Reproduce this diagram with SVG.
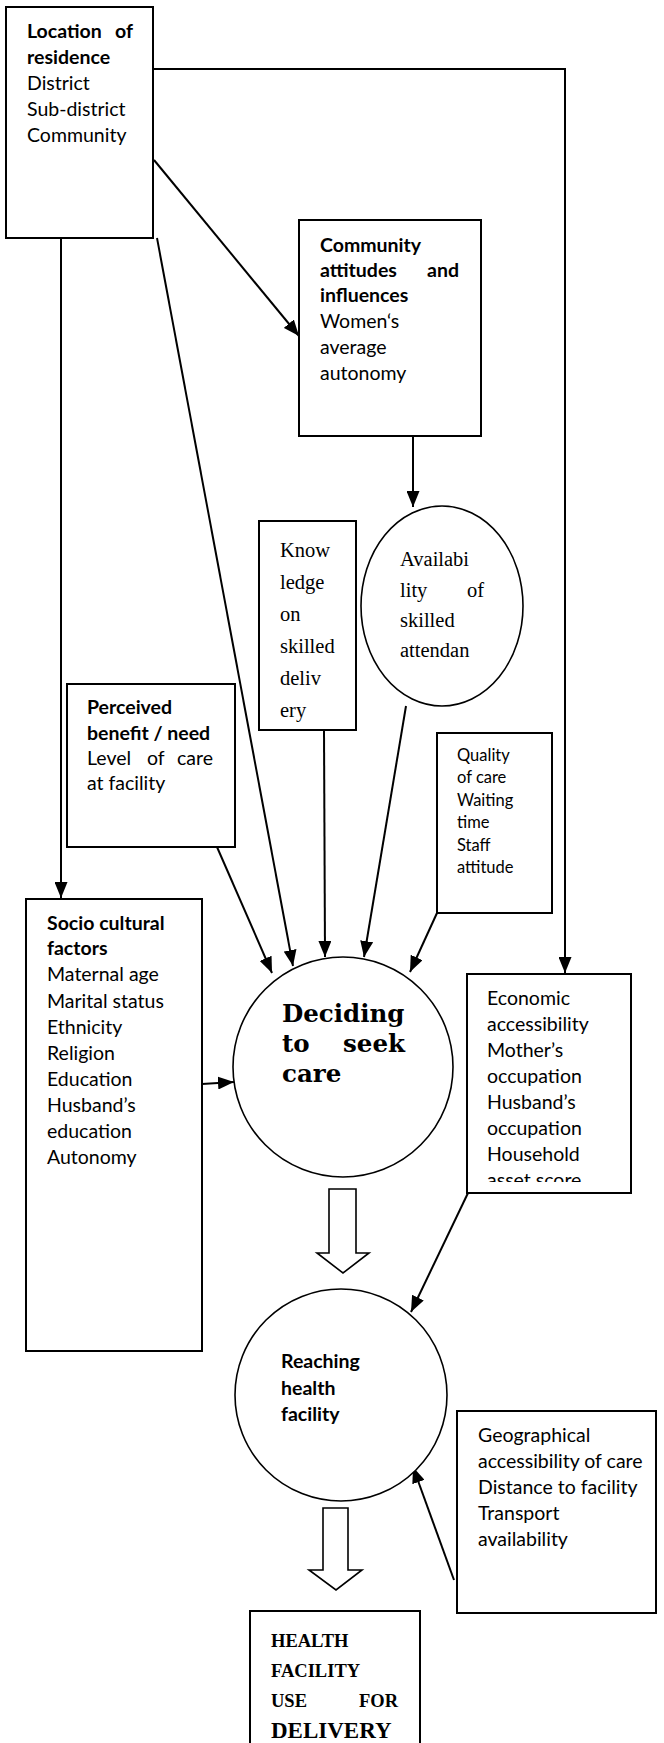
<svg xmlns="http://www.w3.org/2000/svg" width="664" height="1743" viewBox="0 0 664 1743">
<style>
.box{fill:#fff;stroke:#000;stroke-width:2}
.circ{fill:#fff;stroke:#000;stroke-width:1.6}
.s{font-family:Lato,"Liberation Sans",sans-serif;font-size:19.5px;fill:#000}
.sb{font-family:Lato,"Liberation Sans",sans-serif;font-size:19.5px;font-weight:bold;fill:#000}
.sm{font-family:Lato,"Liberation Sans",sans-serif;font-size:16.5px;fill:#000}
.r{font-family:"Liberation Serif",serif;font-size:20.5px;fill:#000}
.rb{font-family:"Liberation Serif",serif;font-weight:bold;fill:#000}
.db{font-family:"DejaVu Serif",serif;font-weight:bold;font-size:24.5px;fill:#000}
.ln{fill:none;stroke:#000;stroke-width:2}
.hollow{fill:#fff;stroke:#000;stroke-width:1.6}
</style>
<defs>
<marker id="ah" markerUnits="userSpaceOnUse" markerWidth="17" markerHeight="13" refX="16" refY="6.5" orient="auto">
<path d="M0,0 L16,6.5 L0,13 z" fill="#000"/>
</marker>
<clipPath id="econClip"><rect x="467" y="974" width="164" height="208"/></clipPath>
</defs>

<g id="connectors">
<polyline class="ln" points="153,69 565,69 565,973" marker-end="url(#ah)"/>
<line class="ln" x1="154" y1="160" x2="299" y2="336" marker-end="url(#ah)"/>
<line class="ln" x1="61" y1="238" x2="61" y2="898" marker-end="url(#ah)"/>
<line class="ln" x1="157" y1="238" x2="293" y2="966" marker-end="url(#ah)"/>
<line class="ln" x1="413" y1="436" x2="413" y2="507" marker-end="url(#ah)"/>
<line class="ln" x1="324" y1="730" x2="325" y2="957" marker-end="url(#ah)"/>
<line class="ln" x1="406" y1="706" x2="364" y2="957" marker-end="url(#ah)"/>
<line class="ln" x1="437" y1="913" x2="410" y2="972" marker-end="url(#ah)"/>
<line class="ln" x1="217" y1="847" x2="272" y2="973" marker-end="url(#ah)"/>
<line class="ln" x1="202" y1="1084" x2="234" y2="1082" marker-end="url(#ah)"/>
<line class="ln" x1="468" y1="1193" x2="411" y2="1312" marker-end="url(#ah)"/>
<line class="ln" x1="454" y1="1580" x2="413" y2="1467" marker-end="url(#ah)"/>
<polygon class="hollow" points="329,1189 356,1189 356,1253 369,1253 343,1273 317,1253 329,1253"/>
<polygon class="hollow" points="323,1508 348,1508 348,1570 362,1570 336,1590 309,1570 323,1570"/>
</g>

<g id="location">
<rect class="box" x="6" y="7" width="147" height="231"/>
<text class="sb" x="27" y="38">Location</text>
<text class="sb" x="133" y="38" text-anchor="end">of</text>
<text class="sb" x="27" y="64">residence</text>
<text class="s" x="27" y="90">District</text>
<text class="s" x="27" y="116">Sub-district</text>
<text class="s" x="27" y="142">Community</text>
</g>

<g id="community">
<rect class="box" x="299" y="220" width="182" height="216"/>
<text class="sb" x="320" y="252">Community</text>
<text class="sb" x="320" y="277">attitudes</text>
<text class="sb" x="459" y="277" text-anchor="end">and</text>
<text class="sb" x="320" y="302">influences</text>
<text class="s" x="320" y="328">Women‘s</text>
<text class="s" x="320" y="354">average</text>
<text class="s" x="320" y="380">autonomy</text>
</g>

<g id="knowledge">
<rect class="box" x="259" y="521" width="97" height="209"/>
<text class="r" x="280" y="557">Know</text>
<text class="r" x="280" y="589">ledge</text>
<text class="r" x="280" y="621">on</text>
<text class="r" x="280" y="653">skilled</text>
<text class="r" x="280" y="685">deliv</text>
<text class="r" x="280" y="717">ery</text>
</g>

<g id="availability">
<ellipse class="circ" cx="442" cy="606" rx="81" ry="100"/>
<text class="r" x="400" y="566" font-size="23">Availabi</text>
<text class="r" x="400" y="597" font-size="23">lity</text>
<text class="r" x="484" y="597" font-size="23" text-anchor="end">of</text>
<text class="r" x="400" y="627" font-size="23">skilled</text>
<text class="r" x="400" y="657" font-size="23">attendan</text>
</g>

<g id="perceived">
<rect class="box" x="67" y="684" width="168" height="163"/>
<text class="sb" x="87" y="714">Perceived</text>
<text class="sb" x="87" y="740">benefit / need</text>
<text class="s" x="87" y="765">Level</text>
<text class="s" x="147" y="765">of</text>
<text class="s" x="213" y="765" text-anchor="end">care</text>
<text class="s" x="87" y="790">at facility</text>
</g>

<g id="quality">
<rect class="box" x="437" y="733" width="115" height="180"/>
<text class="sm" x="457" y="761">Quality</text>
<text class="sm" x="457" y="783">of care</text>
<text class="sm" x="457" y="806">Waiting</text>
<text class="sm" x="457" y="828">time</text>
<text class="sm" x="457" y="851">Staff</text>
<text class="sm" x="457" y="873">attitude</text>
</g>

<g id="socio">
<rect class="box" x="26" y="899" width="176" height="452"/>
<text class="sb" x="47" y="930">Socio cultural</text>
<text class="sb" x="47" y="955">factors</text>
<text class="s" x="47" y="981">Maternal age</text>
<text class="s" x="47" y="1008">Marital status</text>
<text class="s" x="47" y="1034">Ethnicity</text>
<text class="s" x="47" y="1060">Religion</text>
<text class="s" x="47" y="1086">Education</text>
<text class="s" x="47" y="1112">Husband’s</text>
<text class="s" x="47" y="1138">education</text>
<text class="s" x="47" y="1164">Autonomy</text>
</g>

<g id="deciding">
<circle class="circ" cx="343" cy="1067" r="110"/>
<text class="db" x="282" y="1022">Deciding</text>
<text class="db" x="282" y="1052">to</text>
<text class="db" x="405" y="1052" text-anchor="end">seek</text>
<text class="db" x="282" y="1082">care</text>
</g>

<g id="economic">
<rect class="box" x="467" y="974" width="164" height="219"/>
<g clip-path="url(#econClip)">
<text class="s" x="487" y="1005">Economic</text>
<text class="s" x="487" y="1031">accessibility</text>
<text class="s" x="487" y="1057">Mother’s</text>
<text class="s" x="487" y="1083">occupation</text>
<text class="s" x="487" y="1109">Husband’s</text>
<text class="s" x="487" y="1135">occupation</text>
<text class="s" x="487" y="1161">Household</text>
<text class="s" x="487" y="1187">asset score</text>
</g>
</g>

<g id="reaching">
<circle class="circ" cx="341" cy="1395" r="106"/>
<text class="sb" x="281" y="1368">Reaching</text>
<text class="sb" x="281" y="1395">health</text>
<text class="sb" x="281" y="1421">facility</text>
</g>

<g id="geographical">
<rect class="box" x="457" y="1411" width="199" height="202"/>
<text class="s" x="478" y="1442">Geographical</text>
<text class="s" x="478" y="1468">accessibility of care</text>
<text class="s" x="478" y="1494">Distance to facility</text>
<text class="s" x="478" y="1520">Transport</text>
<text class="s" x="478" y="1546">availability</text>
</g>

<g id="healthuse">
<rect class="box" x="250" y="1611" width="170" height="145"/>
<text class="rb" x="271" y="1647" font-size="18.5">HEALTH</text>
<text class="rb" x="271" y="1677" font-size="18.5">FACILITY</text>
<text class="rb" x="271" y="1707" font-size="18.5">USE</text>
<text class="rb" x="398" y="1707" font-size="18.5" text-anchor="end">FOR</text>
<text class="rb" x="271" y="1738" font-size="23">DELIVERY</text>
</g>
</svg>
